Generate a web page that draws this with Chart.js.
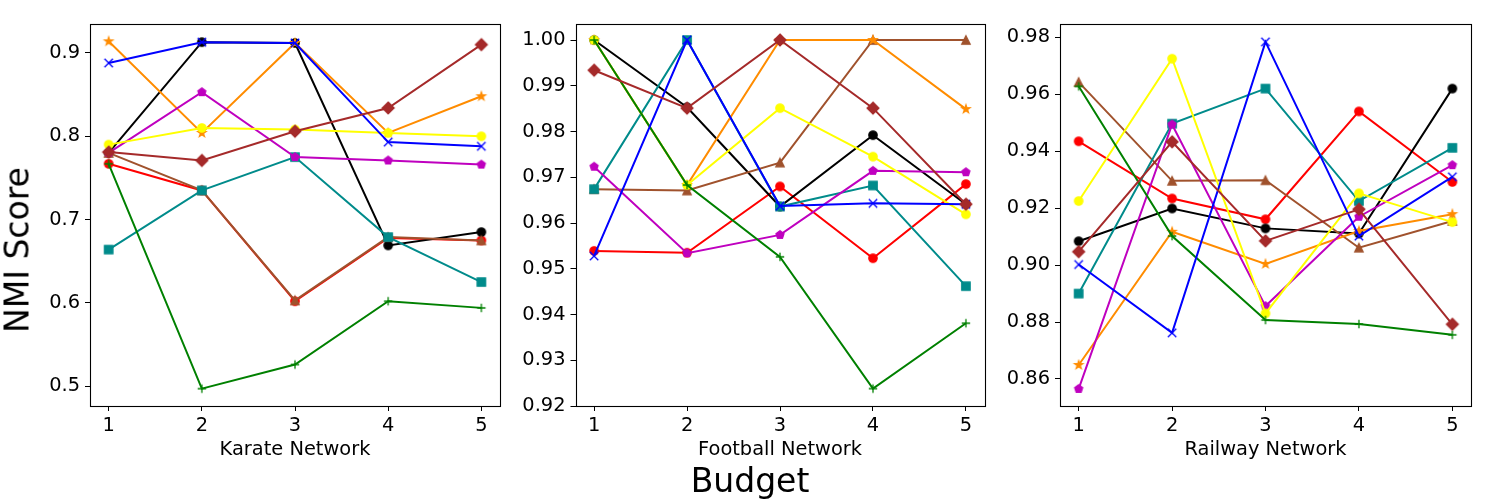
<!DOCTYPE html>
<html>
<head>
<meta charset="utf-8">
<script src="https://cdn.jsdelivr.net/npm/chart.js@4.4.1/dist/chart.umd.min.js"></script>
<style>
  html, body { margin: 0; padding: 0; background: #fff; }
  #wrap { position: relative; width: 1500px; height: 500px; overflow: hidden; background: #fff; }
  canvas { position: absolute; left: 0; top: 0; }
  .lbl { position: absolute; font-family: 'DejaVu Sans', sans-serif; color: #000; white-space: nowrap; }
</style>
</head>
<body>
<div id="wrap">
  <canvas id="c1" width="1500" height="500"></canvas>
  <canvas id="c2" width="1500" height="500"></canvas>
  <canvas id="c3" width="1500" height="500"></canvas>
  <div class="lbl" id="ylab" style="font-size:33px; left:17px; top:250px; transform: translate(-50%,-50%) rotate(-90deg);">NMI Score</div>
  <div class="lbl" id="xlab" style="font-size:33px; left:750px; top:480px; transform: translate(-50%,-50%);">Budget</div>
</div>
<script>
// ---------------- DATA ----------------
const budgets = [1, 2, 3, 4, 5];
const panelTitles = ['Karate Network', 'Football Network', 'Railway Network'];

const karateTicks = [0.5, 0.6, 0.7, 0.8, 0.9];
const footballTicks = [0.92, 0.93, 0.94, 0.95, 0.96, 0.97, 0.98, 0.99, 1.00];
const railwayTicks = [0.86, 0.88, 0.90, 0.92, 0.94, 0.96, 0.98];

// Karate Network
const karateRed     = [0.767, 0.735, 0.602, 0.678, 0.675];
const karateBlack   = [0.780, 0.913, 0.912, 0.669, 0.685];
const karateSienna  = [0.780, 0.735, 0.603, 0.679, 0.675];
const karateTeal    = [0.664, 0.735, 0.775, 0.679, 0.625];
const karateOrange  = [0.914, 0.804, 0.912, 0.804, 0.848];
const karateMagenta = [0.780, 0.853, 0.775, 0.771, 0.766];
const karateYellow  = [0.790, 0.810, 0.808, 0.804, 0.800];
const karateGreen   = [0.767, 0.497, 0.526, 0.602, 0.594];
const karateBlue    = [0.888, 0.913, 0.912, 0.793, 0.788];
const karateBrown   = [0.781, 0.771, 0.806, 0.834, 0.910];

// Football Network
const footballRed     = [0.9539, 0.9535, 0.9680, 0.9523, 0.9685];
const footballBlack   = [1.0000, 0.9853, 0.9636, 0.9792, 0.9641];
const footballSienna  = [0.9674, 0.9671, 0.9732, 1.0000, 1.0000];
const footballTeal    = [0.9674, 1.0000, 0.9636, 0.9682, 0.9462];
const footballOrange  = [1.0000, 0.9683, 1.0000, 1.0000, 0.9849];
const footballMagenta = [0.9723, 0.9534, 0.9574, 0.9714, 0.9711];
const footballYellow  = [1.0000, 0.9683, 0.9851, 0.9745, 0.9619];
const footballGreen   = [1.0000, 0.9683, 0.9526, 0.9238, 0.9381];
const footballBlue    = [0.9528, 1.0000, 0.9637, 0.9643, 0.9641];
const footballBrown   = [0.9934, 0.9851, 1.0000, 0.9851, 0.9641];

// Railway Network
const railwayRed     = [0.9435, 0.9234, 0.9161, 0.9540, 0.9292];
const railwayBlack   = [0.9084, 0.9199, 0.9129, 0.9111, 0.9620];
const railwaySienna  = [0.9643, 0.9296, 0.9298, 0.9061, 0.9155];
const railwayTeal    = [0.8900, 0.9497, 0.9620, 0.9225, 0.9412];
const railwayOrange  = [0.8649, 0.9117, 0.9004, 0.9120, 0.9179];
const railwayMagenta = [0.8565, 0.9494, 0.8856, 0.9170, 0.9351];
const railwayYellow  = [0.9225, 0.9725, 0.8830, 0.9252, 0.9151];
const railwayGreen   = [0.9628, 0.9102, 0.8807, 0.8793, 0.8755];
const railwayBlue    = [0.9002, 0.8762, 0.9784, 0.9102, 0.9310];
const railwayBrown   = [0.9047, 0.9433, 0.9085, 0.9196, 0.8792];

// ---------------- STYLE ----------------
const FONT = "'DejaVu Sans', sans-serif";
const seriesStyles = [ // bottom-to-top drawing order
  { key: 'Red',     color: '#ff0000', marker: 'circle' },
  { key: 'Black',   color: '#000000', marker: 'circle' },
  { key: 'Sienna',  color: '#a0522d', marker: 'triangle' },
  { key: 'Teal',    color: '#008b8b', marker: 'square' },
  { key: 'Orange',  color: '#ff8c00', marker: 'star' },
  { key: 'Magenta', color: '#bf00bf', marker: 'pentagon' },
  { key: 'Yellow',  color: '#ffff00', marker: 'circle' },
  { key: 'Green',   color: '#008000', marker: 'plus' },
  { key: 'Blue',    color: '#0000ff', marker: 'x' },
  { key: 'Brown',   color: '#a52a2a', marker: 'diamond' }
];

function makeMarker(shape, color) {
  const S = 16, c = document.createElement('canvas');
  c.width = S; c.height = S;
  const g = c.getContext('2d');
  const cx = S / 2, cy = S / 2, ms = 8.4, h = ms / 2;
  g.fillStyle = color; g.strokeStyle = color; g.lineWidth = 1.3; g.lineJoin = 'miter';
  g.beginPath();
  if (shape === 'circle') {
    g.arc(cx, cy, h, 0, Math.PI * 2);
  } else if (shape === 'square') {
    g.rect(cx - h, cy - h, ms, ms);
  } else if (shape === 'diamond') {
    const d = ms / Math.SQRT2;
    g.moveTo(cx, cy - d); g.lineTo(cx + d, cy); g.lineTo(cx, cy + d); g.lineTo(cx - d, cy); g.closePath();
  } else if (shape === 'triangle') {
    g.moveTo(cx, cy - h); g.lineTo(cx + h, cy + h); g.lineTo(cx - h, cy + h); g.closePath();
  } else if (shape === 'pentagon') {
    for (let i = 0; i < 5; i++) {
      const a = -Math.PI / 2 + i * 2 * Math.PI / 5;
      const px = cx + h * Math.cos(a), py = cy + h * Math.sin(a);
      i ? g.lineTo(px, py) : g.moveTo(px, py);
    }
    g.closePath();
  } else if (shape === 'star') {
    const r2 = h * 0.381966;
    for (let i = 0; i < 10; i++) {
      const a = -Math.PI / 2 + i * Math.PI / 5;
      const r = i % 2 ? r2 : h;
      const px = cx + r * Math.cos(a), py = cy + r * Math.sin(a);
      i ? g.lineTo(px, py) : g.moveTo(px, py);
    }
    g.closePath();
  } else if (shape === 'plus') {
    g.moveTo(cx - h, cy); g.lineTo(cx + h, cy); g.moveTo(cx, cy - h); g.lineTo(cx, cy + h);
    g.stroke(); return c;
  } else if (shape === 'x') {
    g.moveTo(cx - h, cy - h); g.lineTo(cx + h, cy + h); g.moveTo(cx - h, cy + h); g.lineTo(cx + h, cy - h);
    g.stroke(); return c;
  }
  g.fill(); g.stroke();
  return c;
}

const boxPlugin = {
  id: 'box',
  afterDatasetsDraw(chart) {
    const a = chart.chartArea, g = chart.ctx;
    g.save();
    g.strokeStyle = '#000'; g.lineWidth = 1.1;
    g.strokeRect(Math.round(a.left) + 0.5, Math.round(a.top) + 0.5,
                 Math.round(a.right) - Math.round(a.left), Math.round(a.bottom) - Math.round(a.top));
    g.restore();
  }
};

const panelData = {
  Karate: { Red: karateRed, Black: karateBlack, Sienna: karateSienna, Teal: karateTeal, Orange: karateOrange,
            Magenta: karateMagenta, Yellow: karateYellow, Green: karateGreen, Blue: karateBlue, Brown: karateBrown },
  Football: { Red: footballRed, Black: footballBlack, Sienna: footballSienna, Teal: footballTeal, Orange: footballOrange,
            Magenta: footballMagenta, Yellow: footballYellow, Green: footballGreen, Blue: footballBlue, Brown: footballBrown },
  Railway: { Red: railwayRed, Black: railwayBlack, Sienna: railwaySienna, Teal: railwayTeal, Orange: railwayOrange,
            Magenta: railwayMagenta, Yellow: railwayYellow, Green: railwayGreen, Blue: railwayBlue, Brown: railwayBrown }
};

function buildChart(id, name, title, ticks, decimals, ymin, ymax, plotLeft, plotRight) {
  const yW = 70, xH = 56, top = 24, bottom = 406;
  const ds = seriesStyles.map(s => ({
    label: s.key,
    data: budgets.map((b, i) => ({ x: b, y: panelData[name][s.key][i] })),
    borderColor: s.color,
    backgroundColor: s.color,
    borderWidth: 2,
    pointStyle: makeMarker(s.marker, s.color),
    pointRadius: 5,
    pointHoverRadius: 5,
    tension: 0,
    fill: false
  })).reverse(); // Chart.js draws first dataset on top

  new Chart(document.getElementById(id), {
    type: 'line',
    data: { datasets: ds },
    options: {
      responsive: false,
      animation: false,
      devicePixelRatio: 1,
      events: [],
      layout: { padding: { left: plotLeft - yW, right: 1500 - plotRight, top: top, bottom: 500 - bottom - xH } },
      plugins: { legend: { display: false }, tooltip: { enabled: false } },
      scales: {
        x: {
          type: 'linear', min: 0.8, max: 5.2,
          afterFit: s => { s.height = xH; },
          afterBuildTicks: s => { s.ticks = budgets.map(v => ({ value: v })); },
          grid: { display: true, drawOnChartArea: false, drawTicks: true, tickLength: 5, color: '#000', lineWidth: 1 },
          border: { display: false },
          ticks: { color: '#000', font: { family: FONT, size: 19.4 }, padding: 3, autoSkip: false, maxRotation: 0,
                   callback: v => String(v) },
          title: { display: true, text: title, color: '#000', font: { family: FONT, size: 19.4 }, padding: { top: 0, bottom: 0 } }
        },
        y: {
          type: 'linear', min: ymin, max: ymax,
          afterFit: s => { s.width = yW; },
          afterBuildTicks: s => { s.ticks = ticks.map(v => ({ value: v })); },
          grid: { display: true, drawOnChartArea: false, drawTicks: true, tickLength: 5, color: '#000', lineWidth: 1 },
          border: { display: false },
          ticks: { color: '#000', font: { family: FONT, size: 19.4 }, padding: 5,
                   callback: v => Number(v).toFixed(decimals) }
        }
      }
    },
    plugins: [boxPlugin]
  });
}

buildChart('c1', 'Karate',   panelTitles[0], karateTicks,   1, 0.4762, 0.9348, 90, 500);
buildChart('c2', 'Football', panelTitles[1], footballTicks, 2, 0.9200, 1.0035, 575.5, 984.5);
buildChart('c3', 'Railway',  panelTitles[2], railwayTicks,  2, 0.8505, 0.9847, 1060, 1471);
</script>
</body>
</html>
